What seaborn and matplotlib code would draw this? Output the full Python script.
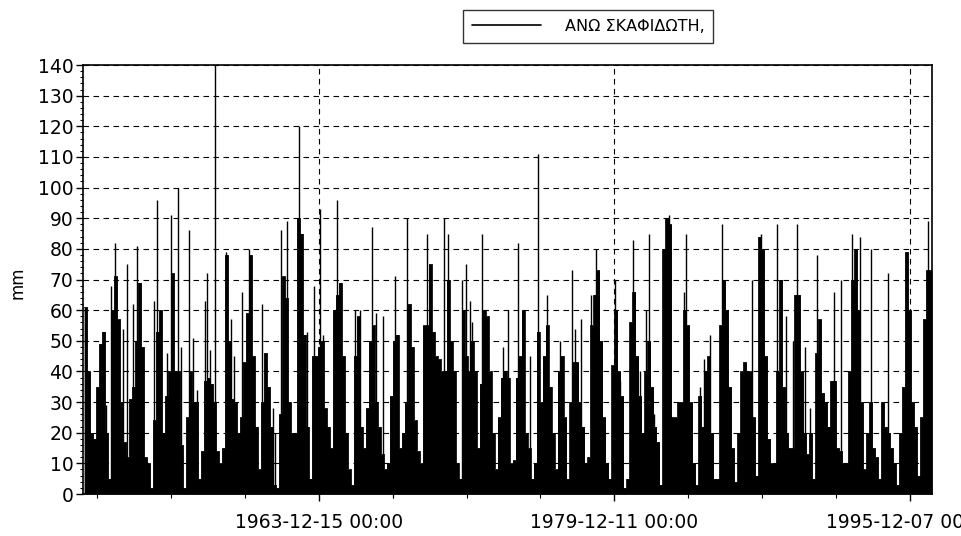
import numpy as np
import pandas as pd
import matplotlib
matplotlib.use("Agg")
import matplotlib.pyplot as plt
import matplotlib.dates as mdates
from matplotlib.ticker import MultipleLocator, FixedLocator
import seaborn as sns

# ---------------- data ----------------
series_name = "ΑΝΩ ΣΚΑΦΙΔΩΤΗ,"
y_label = "mm"

# dense part of the daily rainfall record, sampled every ~59 days
block_start_year = 1951.25
block_step_years = 0.16216
block_mm = [
    61, 40, 20, 18, 35, 49, 53, 20, 5, 60,
    71, 57, 30, 17, 12, 31, 35, 50, 69, 48,
    12, 10, 2, 24, 53, 60, 20, 32, 40, 72,
    40, 40, 16, 2, 25, 40, 30, 30, 5, 14,
    37, 38, 36, 30, 14, 10, 15, 78, 50, 31,
    30, 20, 25, 43, 59, 78, 45, 22, 8, 30,
    46, 35, 22, 3, 2, 26, 71, 64, 30, 20,
    20, 90, 85, 52, 22, 5, 45, 45, 48, 50,
    28, 22, 15, 60, 65, 69, 45, 20, 8, 3,
    45, 58, 22, 15, 28, 50, 55, 30, 22, 13,
    8, 10, 32, 50, 52, 15, 20, 30, 62, 48,
    24, 14, 10, 55, 55, 75, 53, 45, 44, 40,
    40, 70, 50, 40, 10, 5, 60, 45, 40, 50,
    40, 15, 36, 60, 58, 40, 20, 8, 25, 38,
    40, 38, 10, 11, 38, 45, 60, 20, 15, 5,
    10, 53, 30, 45, 55, 35, 20, 8, 40, 45,
    25, 5, 30, 43, 43, 30, 22, 10, 12, 55,
    65, 73, 50, 25, 10, 5, 42, 60, 40, 32,
    2, 5, 56, 66, 45, 32, 20, 40, 50, 35,
    22, 17, 3, 80, 90, 88, 25, 25, 30, 30,
    60, 55, 30, 10, 3, 32, 22, 40, 45, 20,
    5, 5, 55, 70, 60, 35, 15, 4, 20, 40,
    43, 40, 40, 25, 6, 84, 80, 45, 18, 10,
    10, 40, 70, 35, 20, 15, 15, 65, 65, 40,
    20, 13, 20, 5, 46, 57, 33, 30, 22, 37,
    37, 15, 14, 10, 10, 40, 70, 80, 60, 30,
    8, 20, 30, 15, 12, 5, 30, 22, 20, 15,
    10, 3, 20, 35, 79, 60, 30, 22, 6, 25,
    57, 73, 73,
]

# isolated daily peaks (decimal year, mm)
spike_years = [
    1952.44, 1952.71, 1952.92, 1953.36, 1953.57, 1953.90, 1954.11, 1955.03,
    1955.19, 1955.73, 1955.95, 1956.33, 1956.49, 1956.92, 1957.14, 1957.36,
    1957.79, 1957.90, 1958.06, 1958.33, 1958.92, 1959.19, 1959.36, 1959.79,
    1960.17, 1960.87, 1961.46, 1961.57, 1961.90, 1962.22, 1962.87, 1963.30,
    1963.68, 1964.00, 1964.17, 1964.92, 1965.90, 1966.17, 1966.81, 1967.03,
    1967.41, 1968.06, 1968.71, 1969.79, 1970.71, 1970.92, 1971.68, 1971.90,
    1972.11, 1972.27, 1972.81, 1973.90, 1974.17, 1974.76, 1975.41, 1975.79,
    1976.33, 1976.98, 1977.68, 1977.84, 1978.17, 1978.71, 1978.98, 1980.00,
    1980.27, 1980.98, 1981.36, 1981.68, 1981.84, 1982.11, 1982.92, 1983.73,
    1983.84, 1984.60, 1984.81, 1985.14, 1985.79, 1987.41, 1987.90, 1988.76,
    1989.25, 1989.63, 1989.84, 1990.27, 1990.54, 1990.92, 1991.84, 1992.22,
    1992.81, 1993.25, 1993.84, 1994.76, 1995.79, 1996.92,
]
spike_mm = [
    29, 68, 82, 54, 75, 62, 81, 63,
    96, 46, 91, 100, 48, 86, 51, 34,
    63, 72, 47, 140, 79, 57, 45, 66,
    80, 62, 28, 20, 86, 89, 120, 53,
    68, 93, 52, 96, 60, 60, 87, 59,
    58, 71, 90, 85, 90, 85, 70, 75,
    63, 56, 85, 48, 60, 82, 45, 111,
    65, 50, 73, 54, 57, 65, 80, 70,
    37, 83, 40, 60, 85, 26, 91, 66,
    85, 35, 44, 52, 88, 70, 85, 88,
    58, 50, 88, 48, 28, 78, 66, 70,
    85, 84, 80, 72, 76, 89,
]

major_tick_dates = ["1963-12-15", "1979-12-11", "1995-12-07"]
minor_tick_step_days = 1460
x_range_years = (1951.19, 1997.14)
y_ticks = list(range(0, 141, 10))


def year_to_ts(y):
    yi = int(np.floor(y))
    frac = y - yi
    a = pd.Timestamp(year=yi, month=1, day=1)
    b = pd.Timestamp(year=yi + 1, month=1, day=1)
    return a + (b - a) * frac


# ---------------- build frames ----------------
block_dates = [year_to_ts(block_start_year + i * block_step_years)
               for i in range(len(block_mm) + 1)]
block_vals = block_mm + [block_mm[-1]]
df_block = pd.DataFrame({"date": block_dates, "mm": block_vals})
df_spike = pd.DataFrame({"date": [year_to_ts(y) for y in spike_years],
                         "mm": spike_mm})

# ---------------- figure ----------------
sns.set_theme(style="white")
plt.rcParams["font.family"] = ["DejaVu Sans"]

fig = plt.figure(figsize=(9.61, 5.36), dpi=100)
ax = fig.add_axes([83 / 961, 1 - 494 / 536, (932 - 83) / 961, (494 - 65) / 536])

ax.fill_between(df_block["date"], 0, df_block["mm"], step="post",
                color="black", lw=0, zorder=2)
sns.lineplot(data=df_block, x="date", y="mm", drawstyle="steps-post",
             color="black", lw=0.6, ax=ax, label=series_name, zorder=3)
ax.vlines(df_spike["date"], 0, df_spike["mm"], color="black", lw=1.0, zorder=3)

# axes limits and ticks
ax.set_xlim(year_to_ts(x_range_years[0]), year_to_ts(x_range_years[1]))
ax.set_ylim(0, 140)
ax.set_yticks(y_ticks)
ax.yaxis.set_minor_locator(MultipleLocator(2))

majors = [pd.Timestamp(d) for d in major_tick_dates]
ax.set_xticks(majors)
ax.set_xticklabels([d.strftime("%Y-%m-%d 00:00") for d in majors])
minor = []
for k in range(-4, 2):
    d = majors[0] + pd.Timedelta(days=minor_tick_step_days * k)
    minor.append(d)
for m in majors[:2]:
    for k in range(1, 4):
        minor.append(m + pd.Timedelta(days=minor_tick_step_days * k))
ax.xaxis.set_minor_locator(FixedLocator(mdates.date2num(minor)))

ax.tick_params(axis="y", which="major", direction="out", length=5, width=1,
               color="black", labelsize=13.5, pad=2, left=True)
ax.tick_params(axis="y", which="minor", direction="out", length=2.5,
               width=0.8, color="black", left=True)
ax.tick_params(axis="x", which="major", direction="out", length=5, width=1,
               color="black", labelsize=13.5, pad=9, bottom=True)
ax.tick_params(axis="x", which="minor", direction="out", length=3,
               width=0.8, color="black", bottom=True)
for lab in ax.get_xticklabels() + ax.get_yticklabels():
    lab.set_color("black")

ax.grid(False)
ax.yaxis.grid(True, which="major", color="black", ls=(0, (5, 4)), lw=0.8)
ax.xaxis.grid(True, which="major", color="black", ls=(0, (5, 4)), lw=0.8)
ax.set_axisbelow(True)

for s in ax.spines.values():
    s.set_color("black")
    s.set_linewidth(1.2)

ax.set_xlabel("")
ax.set_ylabel("")
fig.text(18 / 961, 1 - 283 / 536, y_label, rotation=90, ha="center",
         va="center", fontsize=12, color="black")

handles, labels = ax.get_legend_handles_labels()
if ax.get_legend() is not None:
    ax.get_legend().remove()
leg = fig.legend(handles[:1], labels[:1], loc="upper center",
                 bbox_to_anchor=(0.612, 0.996), frameon=True, fancybox=False,
                 edgecolor="black", handlelength=4.3, borderpad=0.55,
                 handletextpad=1.5,
                 prop={"family": ["Liberation Sans Narrow", "DejaVu Sans"],
                       "size": 11.5})
leg.get_frame().set_linewidth(1.0)
leg.get_lines()[0].set_linewidth(1.2)
for t in leg.get_texts():
    t.set_color("black")

fig.savefig("out.png", dpi=100, facecolor="white")
